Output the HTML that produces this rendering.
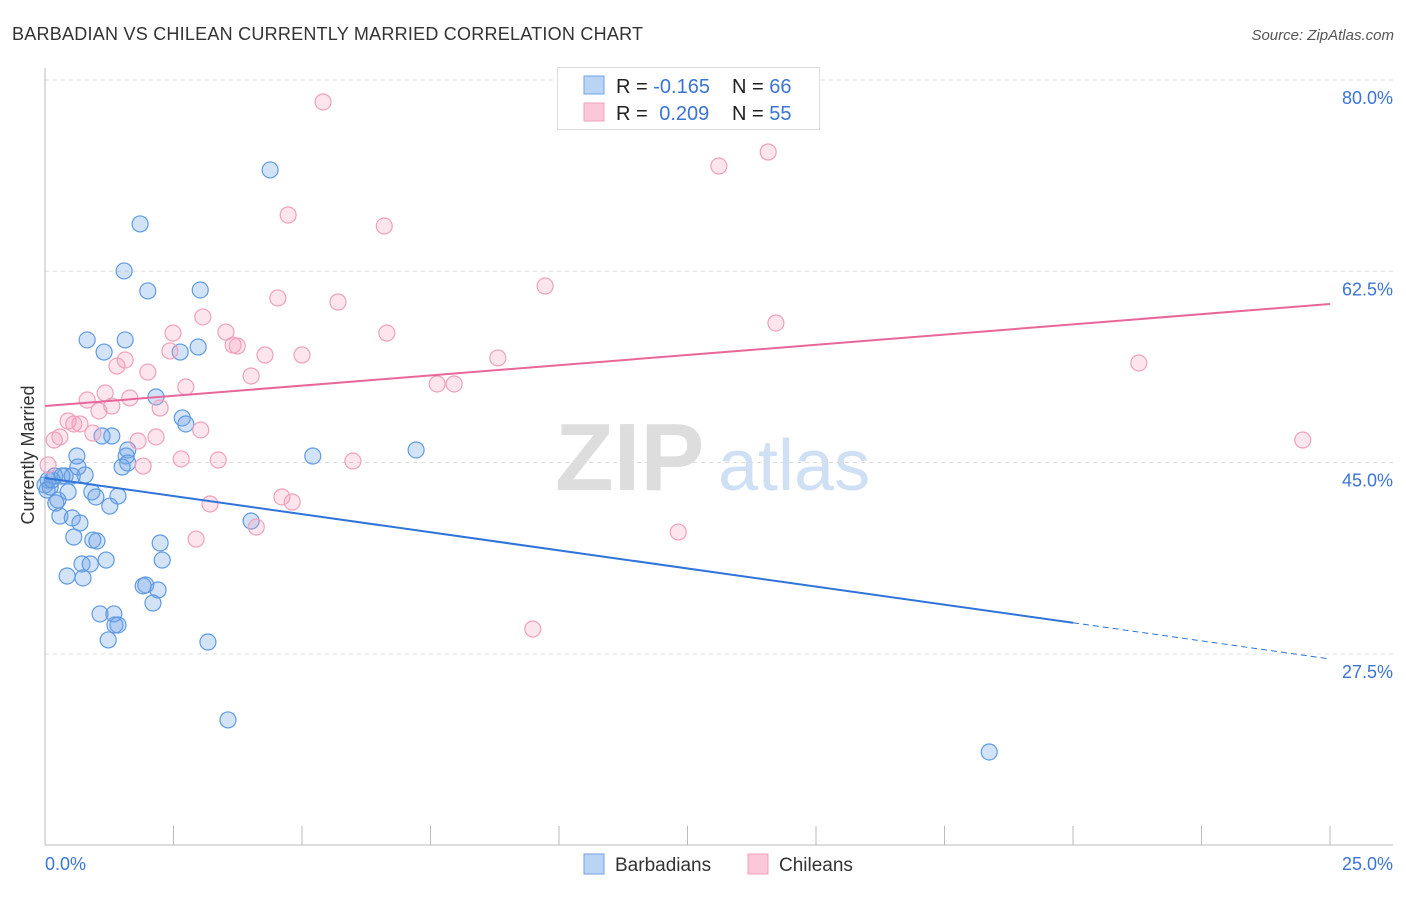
<!DOCTYPE html>
<html><head><meta charset="utf-8"><style>
body{margin:0;background:#fff;font-family:"Liberation Sans",sans-serif;}
svg text{font-family:"Liberation Sans",sans-serif;}
</style></head><body>
<svg id="c" width="1406" height="892" xmlns="http://www.w3.org/2000/svg">
<text x="12" y="40" font-size="18" fill="#333" textLength="631">BARBADIAN VS CHILEAN CURRENTLY MARRIED CORRELATION CHART</text>
<text x="1394" y="40" font-size="15" fill="#555" font-style="italic" text-anchor="end">Source: ZipAtlas.com</text>
<g>
<text x="555" y="490" font-size="96" fill="#ddd" font-family="Liberation Serif" font-weight="bold">ZIP</text>
<text x="718" y="490" font-size="72" fill="#cfe0f5">atlas</text>
</g>
<g id="grid"></g>
<g id="axes"></g>
<g id="pts"></g>
<g id="trend"></g>
<g>
<rect x="557.5" y="67.5" width="262" height="62" fill="#fff" stroke="#ddd"/>
<rect x="584" y="76" width="20" height="18" fill="#b9d4f5" stroke="#6ea3e6"/>
<rect x="584" y="103" width="20" height="18" fill="#fac8d8" stroke="#f0a0bc"/>
<text x="616" y="93" font-size="20" fill="#222">R = <tspan fill="#3b74d6">-0.165</tspan></text>
<text x="732" y="93" font-size="20" fill="#222">N = <tspan fill="#3b74d6">66</tspan></text>
<text x="616" y="120" font-size="20" fill="#222">R = <tspan fill="#3b74d6" dx="6">0.209</tspan></text>
<text x="732" y="120" font-size="20" fill="#222">N = <tspan fill="#3b74d6">55</tspan></text>
</g>
<g>
<rect x="584" y="854" width="20" height="20" fill="#b9d4f5" stroke="#6ea3e6"/>
<text x="615" y="871" font-size="19" fill="#333">Barbadians</text>
<rect x="748" y="854" width="20" height="20" fill="#fac8d8" stroke="#f0a0bc"/>
<text x="779" y="871" font-size="19" fill="#333">Chileans</text>
</g>
<text transform="translate(34,455) rotate(-90)" font-size="18" fill="#333" text-anchor="middle">Currently Married</text>
</svg>
<script>
const yTicks=[80,62.5,45,27.5];
const yTickLabels=["80.0%","62.5%","45.0%","27.5%"];
const xTickLabels=["0.0%","25.0%"];
const blueX=[4.38,1.85,1.54,2.00,3.02,0.82,1.56,1.15,2.98,2.63,2.16,2.67,2.74,1.30,1.11,1.61,1.58,1.61,1.50,0.62,0.64,0.39,0.19,0.53,0.78,0.06,0.10,0.45,0.91,0.99,1.42,1.26,0.25,0.29,0.53,0.68,0.56,0.93,1.01,1.19,2.24,2.28,0.72,0.88,0.43,0.74,1.96,1.91,2.20,2.10,1.07,1.34,1.42,1.36,1.23,3.17,3.56,5.21,7.22,4.01,18.37,0.00,0.04,0.14,0.33,0.21];
const blueY=[71.77,66.83,62.53,60.70,60.79,56.22,56.22,55.11,55.57,55.11,51.00,49.08,48.53,47.43,47.43,46.15,45.60,44.96,44.59,45.60,44.59,43.77,43.77,43.77,43.86,43.40,42.76,42.31,42.31,41.85,41.94,41.02,41.57,40.11,39.93,39.47,38.19,37.91,37.82,36.08,37.64,36.08,35.72,35.72,34.62,34.44,33.80,33.71,33.34,32.15,31.15,31.15,30.14,30.14,28.77,28.58,21.45,45.60,46.15,39.65,18.52,42.95,42.49,43.40,43.77,41.30];
const pinkX=[5.41,14.07,13.11,4.73,6.60,9.73,4.53,5.70,14.22,3.07,2.49,3.52,6.65,3.66,3.74,2.43,4.28,5.00,8.81,1.56,1.40,2.00,4.01,2.74,7.63,7.96,21.28,1.17,0.82,1.65,1.30,2.24,1.05,0.45,0.56,0.68,3.03,0.93,0.29,0.18,1.81,2.16,2.65,3.37,5.99,1.91,24.47,4.61,4.81,3.21,4.11,2.94,12.32,9.49,0.06];
const pinkY=[77.99,73.41,72.13,67.65,66.64,61.15,60.06,59.69,57.77,58.32,56.85,56.94,56.85,55.75,55.66,55.21,54.84,54.84,54.57,54.38,53.83,53.28,52.92,51.91,52.19,52.19,54.11,51.36,50.72,50.91,50.17,49.99,49.72,48.80,48.53,48.53,47.98,47.70,47.34,47.06,46.97,47.34,45.33,45.23,45.14,44.68,47.06,41.85,41.39,41.21,39.10,38.00,38.64,29.77,44.78];
const blueTrend=[43.59,27.03];
const pinkTrend=[50.17,59.51];
const NS="http://www.w3.org/2000/svg";
const X=v=>45+v/25*1285, Y=v=>80+(80-v)*10.93;
function mk(t,a,p){const e=document.createElementNS(NS,t);for(const k in a)e.setAttribute(k,a[k]);p.appendChild(e);return e;}
const grid=document.getElementById('grid'),axes=document.getElementById('axes'),pts=document.getElementById('pts'),tr=document.getElementById('trend');
yTicks.forEach((t,i)=>{
 const l=mk('line',{x1:45,x2:1393,y1:Y(t),y2:Y(t),stroke:'#ddd','stroke-dasharray':'4,4'},grid);
 
 
 const tx=mk('text',{x:1393,y:Y(t)+24,'font-size':18,fill:'#3b74d6','text-anchor':'end'},axes);
 tx.textContent=yTickLabels[i];
 
 
});
let a=mk('line',{x1:45,x2:45,y1:68,y2:845,stroke:'#bbb'},axes);


a=mk('line',{x1:45,x2:1393,y1:845,y2:845,stroke:'#bbb'},axes);


for(let i=0;i<=10;i++){const tk=mk('line',{x1:X(i*2.5),x2:X(i*2.5),y1:826,y2:845,stroke:'#bbb'},axes);
 
 }
[[0,'start',45],[1,'end',1393]].forEach(([i,an,x])=>{const t=mk('text',{x:x,y:870,'font-size':18,fill:'#3b74d6','text-anchor':an},axes);t.textContent=xTickLabels[i];
 
 });
function dots(xs,ys,fill,stroke,name){xs.forEach((x,i)=>{const c=mk('circle',{cx:X(x),cy:Y(ys[i]),r:8,fill:fill,stroke:stroke,'stroke-width':1.2},pts);
 
 });}
dots(blueX,blueY,'rgba(110,163,230,0.3)','#5f9ae2','barbadian-point');
dots(pinkX,pinkY,'rgba(242,150,182,0.25)','#f0a0bc','chilean-point');
const by=x=>blueTrend[0]+(blueTrend[1]-blueTrend[0])*x/25;
let t=mk('line',{x1:X(0),y1:Y(by(0)),x2:X(20),y2:Y(by(20)),stroke:'#2f74d8','stroke-width':2},tr);


t=mk('line',{x1:X(20),y1:Y(by(20)),x2:X(25),y2:Y(by(25)),stroke:'#2f74d8','stroke-width':1,'stroke-dasharray':'6,4'},tr);


t=mk('line',{x1:X(0),y1:Y(pinkTrend[0]),x2:X(25),y2:Y(pinkTrend[1]),stroke:'#e8679a','stroke-width':2},tr);


</script>
</body></html>
